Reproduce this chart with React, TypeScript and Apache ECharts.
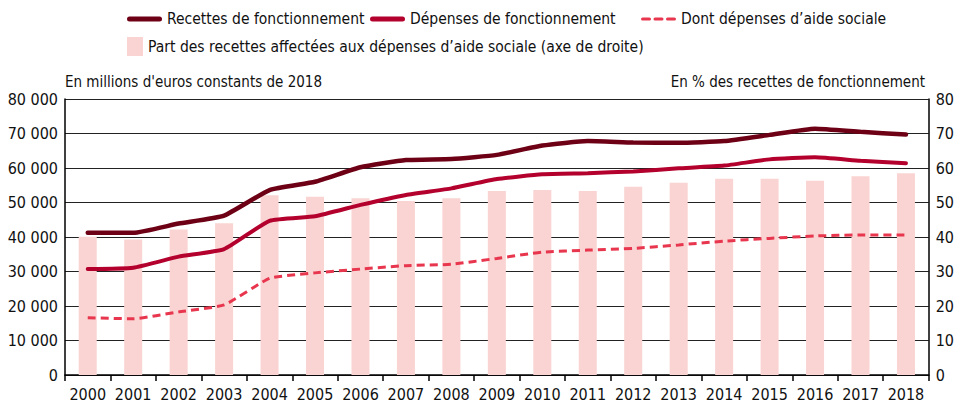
import React, { useEffect, useRef } from "react";
import * as echarts from "echarts";

const years = ["2000","2001","2002","2003","2004","2005","2006","2007","2008","2009","2010","2011","2012","2013","2014","2015","2016","2017","2018"];
const recettes = [41200,41200,43900,46200,53600,56000,60200,62300,62600,63800,66500,67800,67400,67300,67800,69600,71400,70500,69700];
const depenses = [30700,31100,34300,36500,44700,46000,49300,52200,54100,56800,58200,58500,59000,59900,60700,62500,63100,62100,61400];
const aideSociale = [16600,16300,18300,20300,28000,29600,30700,31700,32100,33800,35600,36200,36700,37700,38800,39600,40300,40600,40600];
const partAide = [40.1,39.3,42.2,44.0,52.1,51.7,51.2,50.4,51.2,53.3,53.6,53.3,54.6,55.7,56.9,56.9,56.3,57.6,58.5];

const FONT = "'Liberation Sans Narrow', 'DejaVu Sans Condensed', sans-serif";
const C_REC = "#6e0016";
const C_DEP = "#b3002d";
const C_AIDE = "#e8364e";
const C_BAR = "#f9d4d2";

const ICON_LINE = "path://M2.5,0h30a2.5,2.5 0 0 1 0,5h-30a2.5,2.5 0 0 1 0,-5z";
const ICON_DASH = "path://M1.5,0h7a1.5,1.5 0 0 1 0,3h-7a1.5,1.5 0 0 1 0,-3z M14,0h7a1.5,1.5 0 0 1 0,3h-7a1.5,1.5 0 0 1 0,-3z M26.5,0h7a1.5,1.5 0 0 1 0,3h-7a1.5,1.5 0 0 1 0,-3z";

const fmt = (v: number) => {
  const s = String(Math.round(v));
  return s.replace(/\B(?=(\d{3})+(?!\d))/g, " ");
};

export default function App() {
  const ref = useRef<HTMLDivElement>(null);
  useEffect(() => {
    if (!ref.current) return;
    const chart = echarts.init(ref.current, undefined, { renderer: "svg" });
    const legendText = { fontFamily: FONT, fontSize: 15.5, color: "#111" };
    chart.setOption({
      animation: false,
      textStyle: { fontFamily: FONT },
      legend: [
        { data: [{ name: "Recettes de fonctionnement", icon: ICON_LINE }], left: 127, top: 11, itemWidth: 35, itemHeight: 5, textStyle: legendText, padding: 0 },
        { data: [{ name: "Dépenses de fonctionnement", icon: ICON_LINE }], left: 370, top: 11, itemWidth: 35, itemHeight: 5, textStyle: legendText, padding: 0 },
        { data: [{ name: "Dont dépenses d’aide sociale", icon: ICON_DASH }], left: 641, top: 11, itemWidth: 35, itemHeight: 3.5, textStyle: legendText, padding: 0 },
        { data: [{ name: "Part des recettes affectées aux dépenses d’aide sociale (axe de droite)", icon: "rect" }], left: 127, top: 37, itemWidth: 16, itemHeight: 19, textStyle: legendText, padding: 0 },
      ],
      graphic: [
        { type: "text", left: 65, top: 74, style: { text: "En millions d'euros constants de 2018", font: `15px ${FONT}`, fill: "#111" } },
        { type: "text", right: 32, top: 74, style: { text: "En % des recettes de fonctionnement", font: `15px ${FONT}`, fill: "#111", align: "right" } },
      ],
      grid: { left: 65, right: 27, top: 99, bottom: 29, containLabel: false },
      xAxis: {
        type: "category",
        data: years,
        boundaryGap: true,
        axisLine: { show: true, lineStyle: { color: "#000", width: 1.5 } },
        axisTick: { show: true, length: 6, lineStyle: { color: "#000", width: 1.5 } },
        axisLabel: { color: "#111", fontSize: 16, fontFamily: FONT, margin: 11, interval: 0 },
      },
      yAxis: [
        {
          type: "value", min: 0, max: 80000, interval: 10000,
          axisLine: { show: true, lineStyle: { color: "#000", width: 1.5 } },
          axisTick: { show: false },
          axisLabel: { color: "#111", fontSize: 16, fontFamily: FONT, margin: 7, formatter: (v: number) => fmt(v) },
          splitLine: { show: true, lineStyle: { color: "#222", width: 1.2 } },
        },
        {
          type: "value", min: 0, max: 80, interval: 10, position: "right",
          axisLine: { show: true, lineStyle: { color: "#000", width: 1.5 } },
          axisTick: { show: false },
          axisLabel: { color: "#111", fontSize: 16, fontFamily: FONT, margin: 7 },
          splitLine: { show: false },
        },
      ],
      series: [
        {
          name: "Part des recettes affectées aux dépenses d’aide sociale (axe de droite)",
          type: "bar", yAxisIndex: 1, data: partAide, barWidth: 18,
          itemStyle: { color: C_BAR }, z: 1,
        },
        {
          name: "Recettes de fonctionnement", type: "line", data: recettes, symbol: "none", smooth: 0.15,
          lineStyle: { color: C_REC, width: 4.5, cap: "round" }, itemStyle: { color: C_REC }, z: 5,
        },
        {
          name: "Dépenses de fonctionnement", type: "line", data: depenses, symbol: "none", smooth: 0.15,
          lineStyle: { color: C_DEP, width: 4, cap: "round" }, itemStyle: { color: C_DEP }, z: 4,
        },
        {
          name: "Dont dépenses d’aide sociale", type: "line", data: aideSociale, symbol: "none", smooth: 0.15,
          lineStyle: { color: C_AIDE, width: 3, type: [8, 5] }, itemStyle: { color: C_AIDE }, z: 3,
        },
      ],
    });
    return () => chart.dispose();
  }, []);
  return <div ref={ref} style={{ width: 957, height: 404, position: "absolute", left: 0, top: 0, background: "#fff" }} />;
}
